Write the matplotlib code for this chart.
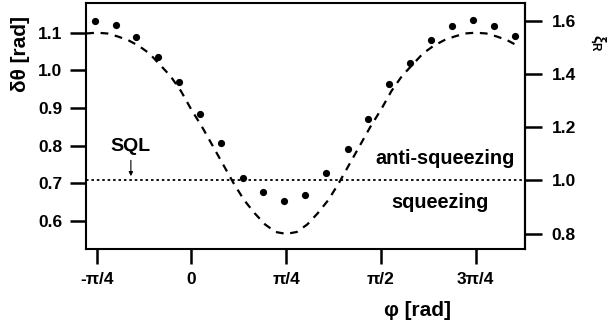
import numpy as np
import matplotlib.pyplot as plt

plt.rcParams['font.family'] = ['Liberation Sans', 'DejaVu Sans']
plt.rcParams['font.weight'] = 'bold'
plt.rcParams['mathtext.fontset'] = 'custom'
plt.rcParams['mathtext.rm'] = 'Liberation Sans:bold'
plt.rcParams['mathtext.it'] = 'Liberation Sans:bold'
plt.rcParams['mathtext.bf'] = 'Liberation Sans:bold'

# measured points (phi in degrees, dtheta in rad)
phi_deg = [-45.8, -35.9, -26.1, -15.8, -5.9, 4.1, 13.9, 24.4, 34.1, 44.1, 54.0,
           64.1, 74.2, 83.8, 93.9, 103.9, 113.8, 123.9, 133.9, 143.8, 153.6]
dtheta = [1.132, 1.120, 1.088, 1.036, 0.969, 0.885, 0.806, 0.714, 0.677, 0.652, 0.668,
          0.728, 0.790, 0.870, 0.963, 1.019, 1.081, 1.119, 1.134, 1.119, 1.092]

theory_deg = list(range(-50, 160, 5))
theory_val = [1.098, 1.100, 1.098, 1.090, 1.080, 1.065, 1.045, 1.015, 0.985, 0.945,
              0.895, 0.850, 0.800, 0.750, 0.700, 0.655, 0.620, 0.590, 0.570, 0.565,
              0.570, 0.590, 0.620, 0.655, 0.700, 0.750, 0.800, 0.850, 0.895, 0.945,
              0.985, 1.015, 1.045, 1.065, 1.080, 1.090, 1.098, 1.100, 1.098, 1.090,
              1.080, 1.065]

sql = 1 / np.sqrt(2)

xticks = [-np.pi/4, 0, np.pi/4, np.pi/2, 3*np.pi/4]
xlabels = ['-π/4', '0', 'π/4', 'π/2', '3π/4']
yticks = [0.6, 0.7, 0.8, 0.9, 1.0, 1.1]
xi_ticks = [0.8, 1.0, 1.2, 1.4, 1.6]

fig = plt.figure(figsize=(6.1, 3.31), dpi=100)
ax = fig.add_axes([86/610, 1-249.3/331, (525-86)/610, (249.3-3)/331])

ax.plot(np.deg2rad(theory_deg), theory_val, color='black', lw=1.6, ls=(0, (3.5, 3)))
ax.plot(np.deg2rad(phi_deg), dtheta, 'o', color='black', ms=5.2, mew=0)
ax.axhline(sql, color='black', lw=1.3, ls=(0, (1.4, 1.6)))

ax.set_xlim(-0.874, 2.765)
ax.set_ylim(0.524, 1.179)
ax.set_xticks(xticks)
ax.set_xticklabels(xlabels)
ax.set_yticks(yticks)
ax.set_yticklabels(['%.1f' % v for v in yticks])

for s in ax.spines.values():
    s.set_linewidth(1.5)
ax.tick_params(axis='y', direction='out', length=11.5, width=1.8, pad=5.5, labelsize=12.5)
ax.tick_params(axis='x', direction='out', length=11, width=1.8, pad=5, labelsize=12.5)

# right axis: xi_R = dtheta / SQL
sec = ax.secondary_yaxis('right', functions=(lambda y: y/sql, lambda x: x*sql))
sec.set_yticks(xi_ticks)
sec.set_yticklabels(['%.1f' % v for v in xi_ticks])
sec.spines['right'].set_linewidth(1.5)
sec.tick_params(direction='out', length=12, width=1.8, pad=7, labelsize=12.5)

# axis labels
fig.text(20/610, 1-54/331, 'δθ [rad]', rotation=90, ha='center', va='center', fontsize=15)
fig.text(418/610, 1-311/331, 'φ [rad]', ha='center', va='center', fontsize=15)
fig.text(598/610, 1-43/331, r'$\xi_R$', rotation=270, ha='center', va='center', fontsize=12)

# annotations
ax.text(-0.502, 0.797, 'SQL', ha='center', va='center', fontsize=14)
ax.annotate('', xy=(-0.502, sql + 0.004), xytext=(-0.502, 0.768),
            arrowprops=dict(arrowstyle='-|>', color='black', lw=0.8, mutation_scale=6))
ax.text((444.7-86)/(525-86), (249.3-158)/(249.3-3), 'anti-squeezing', transform=ax.transAxes,
        ha='center', va='center', fontsize=14.3)
ax.text((440-86)/(525-86), (249.3-202)/(249.3-3), 'squeezing', transform=ax.transAxes,
        ha='center', va='center', fontsize=14.3)

fig.savefig('out.png', dpi=100)
